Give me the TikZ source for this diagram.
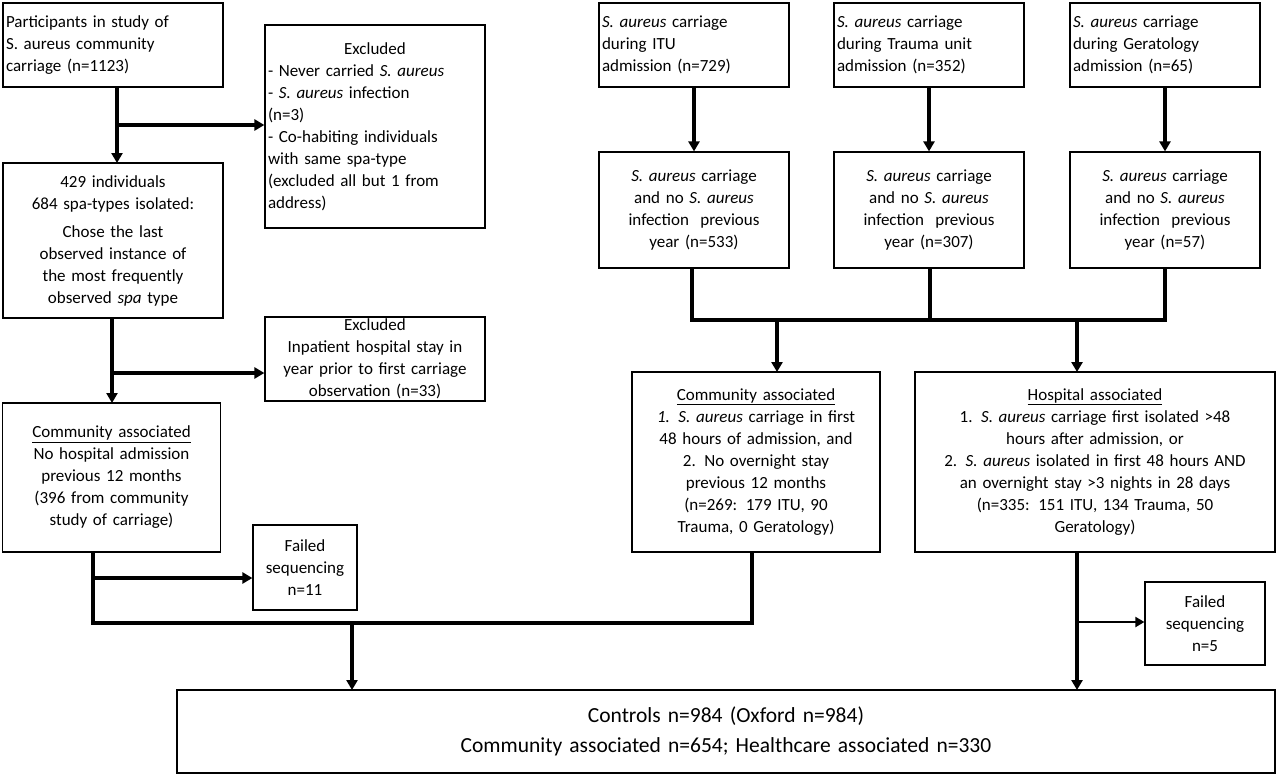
\documentclass[tikz,border=0pt]{standalone}
\usepackage{fontspec}
\setmainfont{Carlito}
\usetikzlibrary{arrows.meta}
\begin{document}
\begin{tikzpicture}[x=1pt,y=-1pt,
 box/.style={draw,line width=1.2pt,align=center,inner sep=2pt,font=\fontsize{17}{22}\selectfont},
 ln/.style={line width=3.2pt},
 ar/.style={line width=3.2pt,-{Triangle[length=10pt,width=11pt]}}]
\useasboundingbox (0,0) rectangle (1280,777);
\node[box,minimum width=220,minimum height=84,text width=214,align=left] (p) at (113,45) {Participants in study of\\S. aureus community\\carriage (n=1123)};
\node[box,minimum width=220,minimum height=203,text width=214,align=left] (e1) at (375,126.5) {\makebox[214pt]{Excluded}\\- Never carried \textit{S. aureus}\\- \textit{S. aureus} infection\\(n=3)\\- Co-habiting individuals\\with same spa-type\\(excluded all but 1 from\\address)};
\node[box,minimum width=220,minimum height=155,text width=214] (i) at (113,240.5) {429 individuals\\684 spa-types isolated:\\[6pt]Chose the last\\observed instance of\\the most frequently\\observed \textit{spa} type};
\node[box,minimum width=220,minimum height=82,text width=214] (e2) at (375,359) {Excluded\\Inpatient hospital stay in\\year prior to first carriage\\observation (n=33)};
\node[box,minimum width=217,minimum height=149,text width=214] (cl) at (111.5,477.5) {\underline{Community associated}\\No hospital admission\\previous 12 months\\(396 from community\\study of carriage)};
\node[box,minimum width=104,minimum height=85,text width=100] (fl) at (305,567.5) {Failed\\sequencing\\n=11};
\node[box,minimum width=190,minimum height=84,text width=184,align=left] (t1) at (694,45) {\textit{S. aureus} carriage\\during ITU\\admission (n=729)};
\node[box,minimum width=190,minimum height=84,text width=184,align=left] (t2) at (929,45) {\textit{S. aureus} carriage\\during Trauma unit\\admission (n=352)};
\node[box,minimum width=190,minimum height=84,text width=184,align=left] (t3) at (1165,45) {\textit{S. aureus} carriage\\during Geratology\\admission (n=65)};
\node[box,minimum width=190,minimum height=116,text width=184] (m1) at (694,210) {\textit{S. aureus} carriage\\and no \textit{S. aureus}\\infection\ \ previous\\year (n=533)};
\node[box,minimum width=190,minimum height=116,text width=184] (m2) at (929,210) {\textit{S. aureus} carriage\\and no \textit{S. aureus}\\infection\ \ previous\\year (n=307)};
\node[box,minimum width=190,minimum height=116,text width=184] (m3) at (1165,210) {\textit{S. aureus} carriage\\and no \textit{S. aureus}\\infection\ \ previous\\year (n=57)};
\node[box,minimum width=248,minimum height=180,text width=244] (cr) at (756,462) {\underline{Community associated}\\\textit{1. S. aureus} carriage in first\\48 hours of admission, and\\2. No overnight stay\\previous 12 months\\(n=269: 179 ITU, 90\\Trauma, 0 Geratology)};
\node[box,minimum width=360,minimum height=180,text width=356] (h) at (1095,462) {\underline{Hospital associated}\\1. \textit{S. aureus} carriage first isolated >48\\hours after admission, or\\2. \textit{S. aureus} isolated in first 48 hours AND\\an overnight stay >3 nights in 28 days\\(n=335: 151 ITU, 134 Trauma, 50\\Geratology)};
\node[box,minimum width=120,minimum height=83,text width=114] (fr) at (1205,623.5) {Failed\\sequencing\\n=5};
\node[box,minimum width=1098,minimum height=83,text width=1090,font=\fontsize{21.5}{30}\selectfont] (c) at (726,731.5) {Controls n=984 (Oxford n=984)\\Community associated n=654; Healthcare associated n=330};
% left chain
\draw[ar] (117,87) -- (117,163);
\draw[ar] (117,125) -- (e1.west|-0,125);
\draw[ar] (112,318) -- (112,403);
\draw[ar] (112,373) -- (e2.west|-0,373);
\draw[ln] (93,552) -- (93,623) -- (752,623) -- (752,552);
\draw[ar] (93,578) -- (fl.west|-0,578);
\draw[ar] (352,623) -- (352,690);
% right
\draw[ar] (t1) -- (m1);
\draw[ar] (t2) -- (m2);
\draw[ar] (t3) -- (m3);
\draw[ln] (692,268) -- (692,320) -- (1165,320) -- (1165,268);
\draw[ln] (930,268) -- (930,320);
\draw[ar] (777,320) -- (777,372);
\draw[ar] (1077,320) -- (1077,372);
\draw[ar] (1077,552) -- (1077,690);
\draw[line width=2pt,-{Triangle[length=9pt,width=10pt]}] (1077,622) -- (fr.west|-0,622);
\end{tikzpicture}
\end{document}
